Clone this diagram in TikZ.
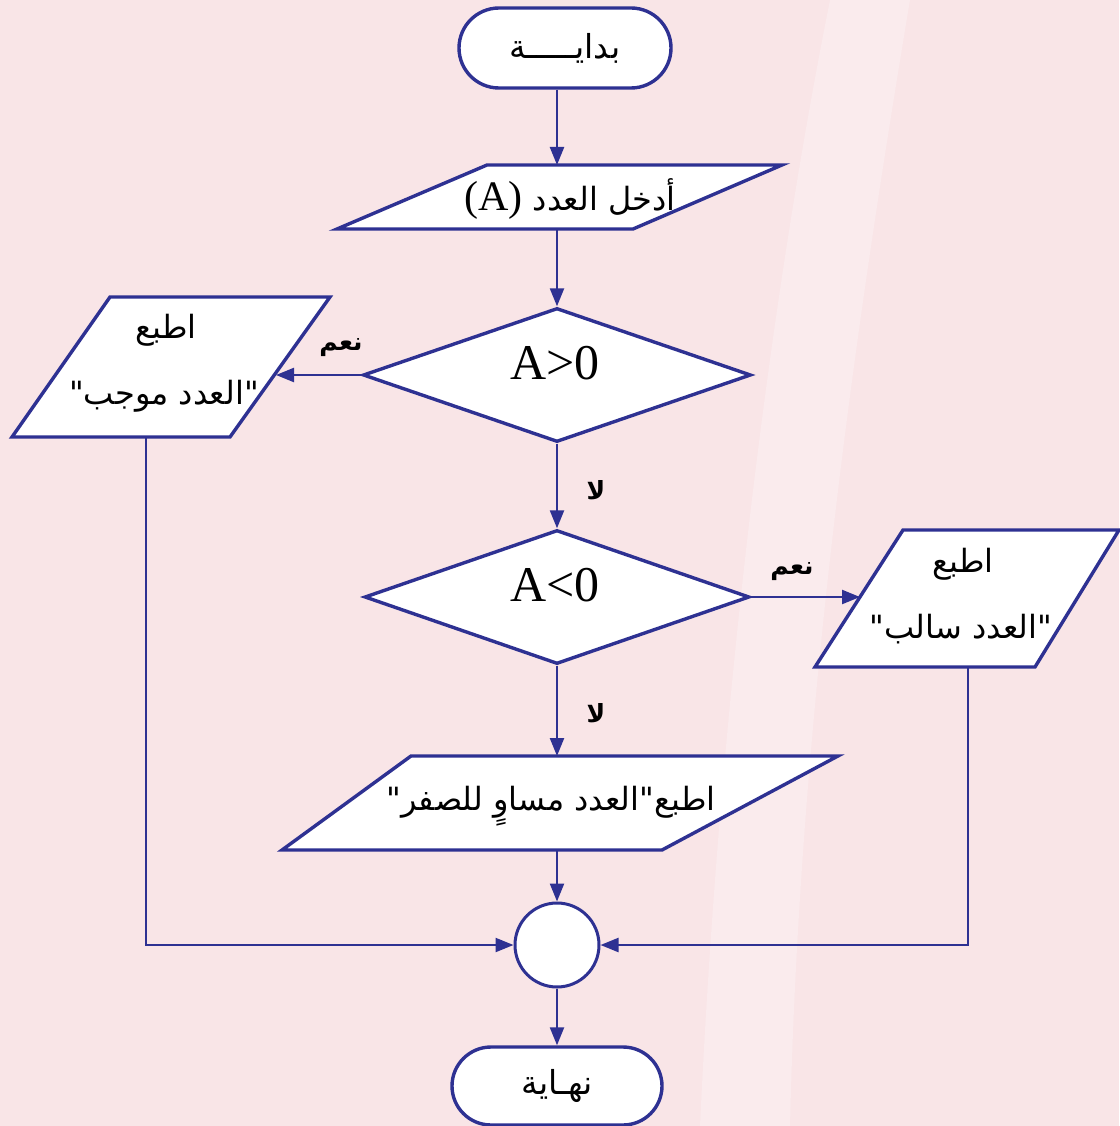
\documentclass[tikz,border=0pt]{standalone}
\usepackage{fontspec}
\usetikzlibrary{shapes.geometric,shapes.misc,arrows.meta}
\TeXXeTstate=1
\newfontfamily\arabicfont[Script=Arabic]{DejaVu Sans}
\newfontfamily\latinserif{Liberation Serif}
\definecolor{flowblue}{HTML}{2E3192}
\definecolor{bgpink}{HTML}{F9E5E7}
\definecolor{bglight}{HTML}{FAEBED}
\tikzset{
  shapebox/.style={draw=flowblue, line width=3.4pt, fill=white, line join=miter},
  terminal/.style={shapebox, rounded rectangle, minimum width=212pt, minimum height=80pt, inner sep=0pt, font=\arabicfont\fontsize{33}{36}\selectfont},
  decision/.style={shapebox, diamond, aspect=2.9, inner sep=0pt},
  joint/.style={shapebox, line width=3pt, circle, minimum size=84pt, inner sep=0pt},
  arrowline/.style={draw=flowblue, line width=2.3pt, -{Triangle[length=18pt,width=14pt]}},
  txt/.style={inner sep=0pt, font=\arabicfont\fontsize{32}{36}\selectfont},
  mathtxt/.style={inner sep=0pt, font=\latinserif\fontsize{50}{54}\selectfont},
  lbl/.style={inner sep=0pt, font=\arabicfont\bfseries\fontsize{25}{28}\selectfont}
}
\begin{document}
\begin{tikzpicture}[x=1pt,y=-1pt]
\useasboundingbox (0,0) rectangle (1119,1126);
\fill[bgpink] (0,0) rectangle (1119,1126);
\fill[bglight] (830,0) .. controls (770,300) and (720,700) .. (700,1126) -- (790,1126) .. controls (800,700) and (860,300) .. (910,0) -- cycle;

% start
\node[terminal] (start) at (565,48) {\beginR بدايـــــة\endR};

% input
\path[shapebox] (487,165) -- (782,165) -- (633,229) -- (337,229) -- cycle;
\coordinate (inTop) at (557,165);
\coordinate (inBot) at (557,229);
\node[txt] (inText) at (570,199) {{\latinserif\fontsize{42}{46}\selectfont(A)}\hspace{10pt}\beginR أدخل العدد\endR};

% decision 1
\node[decision, minimum width=388pt, minimum height=134pt] (d1) at (557,375) {};
\node[mathtxt] (d1Text) at (555,363) {A>0};

% left output
\path[shapebox] (110,297) -- (330,297) -- (230,437) -- (12,437) -- cycle;
\coordinate (leftIn) at (276,375);
\coordinate (leftBot) at (146,437);
\node[txt] (leftA) at (166,330) {\beginR اطبع\endR};
\node[txt] (leftB) at (164,396) {\beginR "العدد موجب"\endR};
\node[lbl] (yes1) at (341,348) {\beginR نعم\endR};

% decision 2
\node[decision, minimum width=385pt, minimum height=134pt] (d2) at (557,597) {};
\node[mathtxt] (d2Text) at (555,585) {A<0};
\node[lbl] (no1) at (596,490) {\beginR لا\endR};

% right output
\path[shapebox] (903,530) -- (1119,530) -- (1035,667) -- (815,667) -- cycle;
\coordinate (rightIn) at (860,597);
\coordinate (rightBot) at (968,667);
\node[txt] (rightA) at (963,564) {\beginR اطبع\endR};
\node[txt] (rightB) at (961,629) {\beginR "العدد سالب"\endR};
\node[lbl] (yes2) at (792,572) {\beginR نعم\endR};
\node[lbl] (no2) at (596,713) {\beginR لا\endR};

% bottom output
\path[shapebox] (411,756) -- (838,756) -- (662,850) -- (282,850) -- cycle;
\coordinate (botTop) at (557,756);
\coordinate (botBot) at (557,850);
\node[txt] (botText) at (551,806) {\beginR اطبع"العدد مساوٍ للصفر"\endR};

% joint and end
\node[joint] (join) at (557,945) {};
\node[terminal, minimum width=210pt, minimum height=78pt] (stop) at (557,1086) {\beginR نهـاية\endR};

% connectors
\draw[arrowline] (start.south -| inTop) -- (inTop);
\draw[arrowline] (inBot) -- (d1.north);
\draw[arrowline] (d1.west) -- (leftIn);
\draw[arrowline] (d1.south) -- (d2.north);
\draw[arrowline] (d2.east) -- (rightIn);
\draw[arrowline] (d2.south) -- (botTop);
\draw[arrowline] (botBot) -- (join.north);
\draw[arrowline] (leftBot) |- (join.west);
\draw[arrowline] (rightBot) |- (join.east);
\draw[arrowline] (join.south) -- (stop.north);
\end{tikzpicture}
\end{document}
